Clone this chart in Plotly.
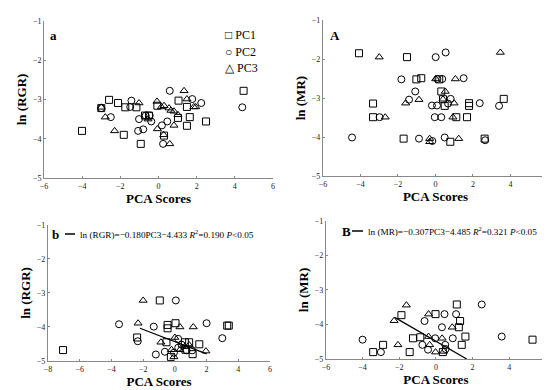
import plotly.graph_objects as go

# Panel a: ln(RGR) vs PCA scores
a_pc1_x = [-4.01, -2.59, -2.12, -1.74, -1.16, -1.82, -0.93, -0.71, -0.50, -0.06, 0.29, 1.05, 1.02, 1.49, 1.49, 1.64, 2.49, 4.46, -3.0]
a_pc1_y = [-3.80, -3.01, -3.09, -3.20, -3.20, -3.90, -4.13, -3.41, -3.41, -3.16, -3.92, -3.03, -3.47, -3.19, -3.67, -3.45, -3.56, -2.78, -3.22]
a_pc2_x = [-1.42, -1.48, -1.02, -0.67, -1.07, -0.80, -0.46, -0.38, 0.18, 0.46, 0.59, 1.77, 2.24, 0.24, 4.39, -2.50, -3.0]
a_pc2_y = [-3.03, -3.19, -3.50, -3.41, -3.80, -3.76, -3.41, -3.56, -3.66, -3.56, -2.78, -2.99, -3.09, -4.13, -3.20, -3.45, -3.22]
a_pc3_x = [-3.0, -2.79, -2.30, -1.02, -0.08, 0.15, 0.29, 0.55, 0.65, 0.81, 1.02, 0.81, -0.06, 1.34, 1.49, 1.85, 1.95, 0.59, 0.27, -0.55]
a_pc3_y = [-3.20, -3.45, -3.80, -3.09, -3.05, -3.19, -3.16, -3.22, -3.28, -3.30, -3.39, -3.66, -3.75, -2.78, -2.99, -3.19, -3.19, -4.13, -3.90, -3.50]

# Panel A: ln(MR) vs PCA scores
A_pc1_x = [-4.08, -1.52, -1.02, -0.76, -3.33, -3.33, -1.70, 0.31, 0.40, 0.49, 1.11, 1.68, 1.79, 1.79, 3.64, 0.79, 2.62, 0.20]
A_pc1_y = [-1.85, -1.95, -2.52, -2.49, -3.14, -3.49, -4.04, -2.83, -3.03, -3.20, -3.49, -3.49, -3.13, -3.20, -3.02, -4.12, -4.04, -2.52]
A_pc2_x = [-4.45, -1.82, -1.08, -1.41, -2.98, -0.88, -0.19, 0.01, 0.54, -0.04, 0.31, 0.08, 0.36, 0.81, 0.67, 1.50, 2.36, 3.39, 2.65, -0.17, 0.49, 0.10]
A_pc2_y = [-4.01, -2.52, -2.83, -3.04, -3.49, -4.04, -3.19, -1.95, -1.83, -3.49, -3.49, -3.19, -2.51, -3.02, -3.14, -2.49, -3.13, -3.20, -4.08, -4.10, -4.01, -2.51]
A_pc3_x = [-3.00, -2.68, -1.59, -0.88, -0.31, -0.31, 0.01, 0.52, 1.06, 0.99, 0.93, 1.24, 3.46, 0.40]
A_pc3_y = [-1.95, -3.49, -3.13, -3.04, -4.04, -4.12, -2.51, -2.83, -2.51, -3.13, -3.49, -4.04, -1.83, -3.03]

# Panel b
b_pc1_x = [-7.05, -0.95, -2.38, -0.46, -0.46, -0.53, 0.04, 0.63, 0.90, 1.12, 1.54, 3.30, 3.40, -0.25, 0.67]
b_pc1_y = [-4.68, -3.22, -4.31, -3.94, -4.04, -4.45, -3.89, -4.45, -4.45, -4.80, -4.51, -3.96, -3.96, -4.88, -4.67]
b_pc2_x = [-3.52, -2.34, -1.33, -1.20, -0.63, 0.06, 0.21, 0.42, 0.74, 1.09, 2.00, 2.99, -0.06, 0.21]
b_pc2_y = [-3.92, -4.42, -3.99, -4.81, -4.73, -3.22, -4.61, -4.52, -4.69, -4.69, -3.89, -4.33, -4.76, -4.35]
b_pc3_x = [-2.00, -2.32, -0.88, 0.00, 0.32, 1.16, -0.21, 0.32, 0.90, 1.96, -0.06, 0.63]
b_pc3_y = [-3.22, -3.89, -4.45, -4.31, -4.00, -4.00, -4.67, -4.67, -4.53, -4.71, -4.88, -4.58]
b_slope, b_intercept = -0.180, -4.433
b_line_x = [-2.2, 2.0]

# Panel B
B_pc1_x = [-3.42, -2.88, -1.88, -1.43, -1.25, -0.85, -0.02, 1.14, 1.32, 1.25, 1.61, 1.41, 5.27, 0.38]
B_pc1_y = [-4.80, -4.59, -3.73, -4.80, -4.40, -4.37, -3.70, -3.42, -3.90, -4.08, -4.35, -4.59, -4.44, -4.80]
B_pc2_x = [-4.00, -3.00, -0.74, -0.62, -0.43, -0.04, 0.33, 0.47, 0.51, 1.10, 0.92, 2.50, 3.59, 0.53]
B_pc2_y = [-4.44, -4.80, -4.59, -3.90, -4.73, -4.40, -4.08, -3.70, -4.59, -3.70, -4.40, -3.42, -4.35, -4.71]
B_pc3_x = [-2.28, -2.07, -1.61, -0.40, -0.40, -0.34, -0.02, 0.34, 0.89, 0.43]
B_pc3_y = [-3.89, -4.59, -3.44, -3.70, -4.35, -4.59, -4.80, -4.40, -4.08, -4.78]
B_slope, B_intercept = -0.307, -4.485
B_line_x = [-2.25, 1.68]

series_names = ["PC1", "PC2", "PC3"]
legend_glyphs = ["\u25a1", "\u25cb", "\u25b3"]
symbols = ["square-open", "circle-open", "triangle-up-open"]

FONT = "Liberation Serif, Times New Roman, serif"
fig = go.Figure()

panels = [
    ("x", "y", [(a_pc1_x, a_pc1_y), (a_pc2_x, a_pc2_y), (a_pc3_x, a_pc3_y)]),
    ("x2", "y2", [(A_pc1_x, A_pc1_y), (A_pc2_x, A_pc2_y), (A_pc3_x, A_pc3_y)]),
    ("x3", "y3", [(b_pc1_x, b_pc1_y), (b_pc2_x, b_pc2_y), (b_pc3_x, b_pc3_y)]),
    ("x4", "y4", [(B_pc1_x, B_pc1_y), (B_pc2_x, B_pc2_y), (B_pc3_x, B_pc3_y)]),
]
for xa, ya, data in panels:
    for (xs, ys), name, sym in zip(data, series_names, symbols):
        fig.add_trace(go.Scatter(
            x=xs, y=ys, mode="markers", name=name, xaxis=xa, yaxis=ya,
            showlegend=False,
            marker=dict(symbol=sym, size=7, color="black", line=dict(width=1, color="black")),
        ))

fig.add_trace(go.Scatter(x=b_line_x, y=[b_slope * v + b_intercept for v in b_line_x],
                         mode="lines", line=dict(color="black", width=1.2),
                         xaxis="x3", yaxis="y3", showlegend=False))
fig.add_trace(go.Scatter(x=B_line_x, y=[B_slope * v + B_intercept for v in B_line_x],
                         mode="lines", line=dict(color="black", width=1.2),
                         xaxis="x4", yaxis="y4", showlegend=False))

def xaxis(domain, anchor, rng):
    return dict(domain=domain, anchor=anchor, range=rng, dtick=2, tick0=0, automargin=False,
                showgrid=False, zeroline=False, showline=True, linecolor="#888",
                linewidth=1, ticks="inside", ticklen=2, tickcolor="#888",
                tickfont=dict(family=FONT, size=8, color="#222"),
                title=dict(text="<b>PCA Scores</b>", font=dict(family=FONT, size=13, color="black"), standoff=2))

def yaxis(domain, anchor, title):
    return dict(domain=domain, anchor=anchor, range=[-5, -1], dtick=1, automargin=False,
                showgrid=False, zeroline=False, showline=True, linecolor="#888",
                linewidth=1, ticks="inside", ticklen=2, tickcolor="#888",
                tickfont=dict(family=FONT, size=8, color="#222"),
                title=dict(text=f"<b>{title}</b>", font=dict(family=FONT, size=13, color="black"), standoff=3))

fig.update_layout(
    width=550, height=390, margin=dict(l=0, r=0, t=0, b=0),
    paper_bgcolor="white", plot_bgcolor="white",
    xaxis=xaxis([0.0655, 0.4818], "y", [-6, 6]),
    yaxis=yaxis([0.564, 0.967], "x", "ln (RGR)"),
    xaxis2=xaxis([0.5727, 0.9818], "y2", [-6, 6]),
    yaxis2=yaxis([0.569, 0.969], "x2", "ln (MR)"),
    xaxis3=xaxis([0.0727, 0.4764], "y3", [-8, 6]),
    yaxis3=yaxis([0.0950, 0.4436], "x3", "ln (RGR)"),
    xaxis4=xaxis([0.578, 0.978], "y4", [-6, 6]),
    yaxis4=yaxis([0.100, 0.454], "x4", "ln (MR)"),
    showlegend=False,
)

def paper_text(text, px, py, size, xanchor="center"):
    fig.add_annotation(text=text, x=px / 550, y=1 - py / 390, xref="paper", yref="paper",
                       xanchor=xanchor, yanchor="middle", showarrow=False,
                       font=dict(family=FONT, size=size, color="black"))

# legend of panel a, as text
for i, (g, name) in enumerate(zip(legend_glyphs, series_names)):
    paper_text(f"{g} {name}", 215, 27 + 16.5 * i, 12, xanchor="left")

paper_text("<b>a</b>", 45, 28, 13)
paper_text("<b>A</b>", 327, 28, 13)

paper_text("<b>b</b>", 47, 226, 13)
fig.add_shape(type="line", xref="paper", yref="paper", x0=57 / 550, x1=67 / 550,
              y0=1 - 226 / 390, y1=1 - 226 / 390, line=dict(color="black", width=1.5))
paper_text("ln (RGR)=\u22120.180PC3\u22124.433 <i>R</i><sup>2</sup>=0.190 <i>P</i>&lt;0.05", 70, 226, 9.2, xanchor="left")

paper_text("<b>B</b>", 338, 223, 13)
fig.add_shape(type="line", xref="paper", yref="paper", x0=344 / 550, x1=355 / 550,
              y0=1 - 223 / 390, y1=1 - 223 / 390, line=dict(color="black", width=1.5))
paper_text("ln (MR)=\u22120.307PC3\u22124.485 <i>R</i><sup>2</sup>=0.321 <i>P</i>&lt;0.05", 358, 223, 9.2, xanchor="left")

fig.write_html("out.html")
